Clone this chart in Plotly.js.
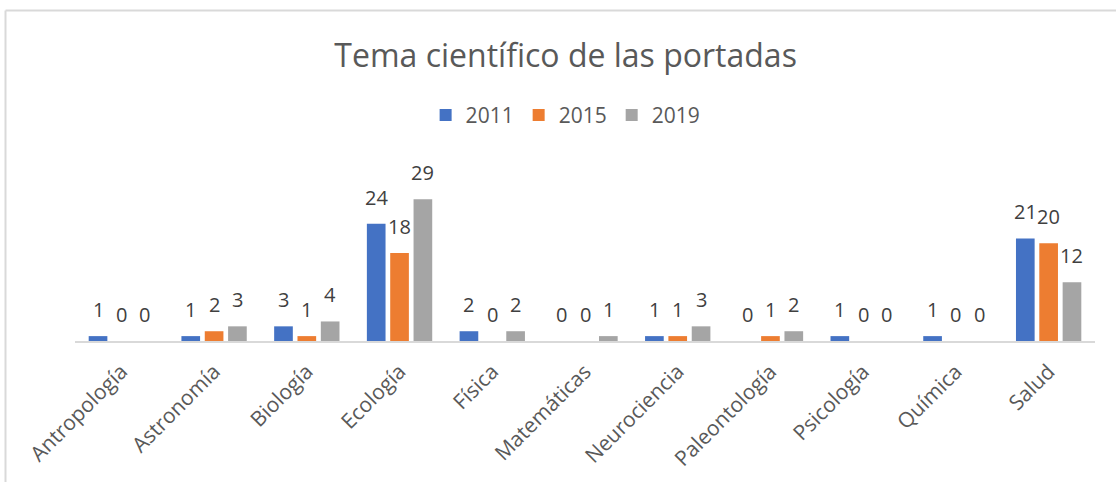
<!DOCTYPE html>
<html>
<head>
<meta charset="utf-8">
<script src="https://cdn.plot.ly/plotly-3.0.1.min.js"></script>
<style>html,body{margin:0;padding:0;background:#fff;}#chart{width:1116px;height:482px;}</style>
</head>
<body>
<div id="chart"></div>
<script>
const categories = ["Antropología","Astronomía","Biología","Ecología","Física","Matemáticas","Neurociencia","Paleontología","Psicología","Química","Salud"];
const seriesNames = ["2011","2015","2019"];
const values2011 = [1,1,3,24,2,0,1,0,1,1,21];
const values2015 = [0,2,1,18,0,0,1,1,0,0,20];
const values2019 = [0,3,4,29,2,1,3,2,0,0,12];
const colors = ["#4472C4","#ED7D31","#A5A5A5"];

const W = 1116, H = 482;
const mL = 75, mR = 21, mT = 170, mB = 141;
const plotW = W - mL - mR, plotH = H - mT - mB;
const bargap = 0.245, bargroupgap = 0.2;
const catW = plotW / categories.length;
const pitch = catW * (1 - bargap) / 3;

const allSeries = [values2011, values2015, values2019];
const traces = allSeries.map((vals, j) => ({
  type: 'bar', name: seriesNames[j], x: categories, y: vals,
  marker: {color: colors[j], line: {color: '#ffffff', width: 0}},
  hoverinfo: 'none'
}));

const annotations = [];
allSeries.forEach((vals, j) => {
  vals.forEach((v, i) => {
    annotations.push({
      x: categories[i], y: v, xref: 'x', yref: 'y', text: String(v), showarrow: false,
      xanchor: 'center', yanchor: 'bottom', xshift: (j - 1) * pitch, yshift: 11,
      font: {family: 'Open Sans', size: 20, color: '#404040'}
    });
  });
});

const px2paperX = p => (p - mL) / plotW;
const px2paperY = p => (H - mB - p) / plotH;

const layout = {
  width: W, height: H,
  margin: {l: mL, r: mR, t: mT, b: mB, pad: 0},
  paper_bgcolor: '#ffffff', plot_bgcolor: '#ffffff',
  font: {family: 'Open Sans', color: '#595959'},
  title: {text: 'Tema científico de las portadas', font: {family: 'Open Sans', size: 32, color: '#595959'},
          x: 0.481, xanchor: 'center', y: 0.885, yanchor: 'middle', xref: 'paper', yref: 'container'},
  barmode: 'group', bargap: bargap, bargroupgap: bargroupgap,
  showlegend: true,
  legend: {orientation: 'h', x: 0.481, xanchor: 'center', y: 1.32, yanchor: 'middle',
           font: {family: 'Open Sans', size: 21, color: '#595959'}, itemwidth: 30, traceorder: 'normal'},
  xaxis: {type: 'category', tickangle: -45, showline: true, linecolor: '#D9D9D9', linewidth: 2,
          ticks: '', showgrid: false, zeroline: false, fixedrange: true, ticklabelstandoff: 8,
          tickfont: {family: 'Open Sans', size: 21, color: '#595959'}},
  yaxis: {range: [0, 35], showticklabels: false, showgrid: false, zeroline: false, showline: false, ticks: '', fixedrange: true},
  annotations: annotations,
  shapes: [
    {type: 'line', xref: 'paper', yref: 'paper', x0: px2paperX(5.5), x1: px2paperX(5.5), y0: px2paperY(10.5), y1: px2paperY(490), line: {color: '#D9D9D9', width: 2}},
    {type: 'line', xref: 'paper', yref: 'paper', x0: px2paperX(5.5), x1: px2paperX(1120), y0: px2paperY(10.5), y1: px2paperY(10.5), line: {color: '#D9D9D9', width: 2}}
  ]
};

Plotly.newPlot('chart', traces, layout, {displayModeBar: false, staticPlot: true});
</script>
</body>
</html>
